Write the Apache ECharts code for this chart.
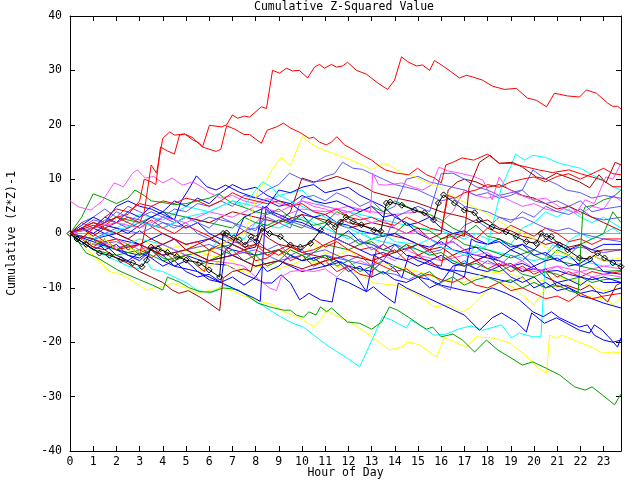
<!DOCTYPE html>
<html><head><meta charset="utf-8">
<script src="https://cdn.jsdelivr.net/npm/echarts@6/dist/echarts.min.js"></script>
<style>html,body{margin:0;padding:0;background:#fff}#c{width:640px;height:480px}</style>
</head><body><div id="c"></div>
<script>
// Tick labels
const xTicks = [0,1,2,3,4,5,6,7,8,9,10,11,12,13,14,15,16,17,18,19,20,21,22,23];
const yTicks = [-40,-30,-20,-10,0,10,20,30,40];
const zeroLine = [[0,0],[23.75,0]];

// Series values: [hour, cumulative value]
const redA = [[0,0],[0.5,1],[1,2],[1.5,1],[2,2],[2.5,3],[3,2],[3.2,4],[3.5,12.6],[3.73,11.1],[4.0,17.5],[4.3,18.7],[4.5,18.1],[4.94,18.3],[5.3,17.2],[5.58,16.6],[5.71,15.9],[6.01,19.9],[6.53,19.6],[6.75,20],[7.0,21.8],[7.22,21.2],[7.52,21.6],[7.74,21.4],[8.25,23.3],[8.47,23],[8.73,30],[9.03,29.5],[9.33,30.4],[9.59,29.9],[9.89,30],[10.24,28.6],[10.54,30.6],[10.75,31.1],[10.97,30.4],[11.27,31.1],[11.49,30.6],[11.75,30.8],[11.96,31.5],[12.35,30],[12.78,29.3],[13.26,27.7],[13.69,26.5],[13.99,28.2],[14.29,32.5],[14.55,31.6],[14.94,30.8],[15.19,31],[15.5,30],[15.71,31.8],[16.01,31],[16.44,29.7],[16.79,28.6],[17.09,29.1],[17.35,28.8],[17.78,28.2],[18.21,27.1],[18.73,26.5],[19.24,26.7],[19.72,24.9],[20.1,24.5],[20.54,23.3],[20.88,25.8],[21.44,25.3],[21.96,25.1],[22.26,26.4],[22.69,25.8],[23.17,24],[23.38,23.4],[23.6,23.4],[23.75,22.9]];
const redB = [[0,0],[0.5,-1],[1,1],[1.5,2],[2,3],[2.5,3.5],[3,6],[3.2,10],[3.5,9.5],[3.7,9],[3.9,15.9],[4.2,15.2],[4.5,14.6],[4.72,18.1],[4.94,18.3],[5.3,17.6],[5.71,15.9],[6.3,15.1],[6.5,15.5],[6.75,19.8],[7.1,19.2],[7.5,18.2],[7.74,18.2],[8.25,16.6],[8.5,19],[8.9,19.6],[9.2,20.3],[9.5,19.4],[9.95,18.5],[10.3,17.5],[10.5,17.7],[10.75,16.8],[11.05,16.3],[11.27,16.8],[11.5,17.8],[11.83,16.3],[12.26,15.3],[12.6,14.4],[13.0,13.5],[13.4,12.2],[13.6,11.7],[14.07,11.1],[14.6,10.8],[14.98,12],[15.37,10.8],[15.71,10.2],[16.0,9.3],[16.2,12.6],[16.5,13.1],[16.9,13.9],[17.4,13.5],[18.0,14.6],[18.5,12.9],[19.0,12.9],[19.7,12.2],[20.2,11.7],[20.8,11.2],[21.5,11.7],[22.0,11],[22.5,10.4],[22.95,9.8],[23.4,8.6],[23.75,8.6]];
const red3 = [[0,0],[0.5,2],[1,1],[1.5,3],[2,4.5],[2.5,4],[3,5.5],[3.5,5],[4,6],[4.5,5.5],[5,6.5],[5.5,6],[6,5],[6.5,6],[7,7.5],[7.5,6.5],[8,6],[8.5,5.5],[9,6],[9.5,5],[10,5.5],[10.5,4],[11,3.5],[11.5,4.5],[12,3],[12.5,2.5],[13,3],[13.5,2],[14,1.5],[14.5,3],[15,2],[15.5,1],[16,0.5],[16.3,7],[16.6,6.5],[17,7.5],[17.5,8],[18,9],[18.5,8.5],[19,9.5],[19.5,10],[20,10.4],[20.5,9.5],[21,10.5],[21.5,11],[22,10],[22.5,11],[23,12],[23.4,11],[23.75,10.8]];
const red4 = [[0,0],[0.5,-1],[1,-2.5],[1.5,-1],[2,-3],[2.5,-2],[3,-4],[3.3,2],[3.6,1],[4,0],[4.5,-1],[5,-2],[5.5,-1.5],[6,-3],[6.5,-2],[7,-4],[7.5,-3],[8,-5],[8.5,-4.5],[9,-3],[9.5,-2],[10,-3.5],[10.5,-3],[11,-2],[11.5,-1],[12,-2],[12.5,-3],[13,-2.5],[13.5,-4],[14,-3],[14.5,-5],[15,-4],[15.5,-5.5],[16,-6],[16.3,0],[16.6,-1],[17,0],[17.5,-1],[18,1],[18.5,0],[19,1.5],[19.5,0.5],[20,-0.5],[20.5,1],[21,0],[21.5,-1.5],[22,-1],[22.5,-2],[23,-1],[23.75,-1]];
const red5 = [[0,0],[0.5,1],[1,0],[1.5,-1.5],[2,-1],[2.5,-3],[3,-2],[3.5,-4.5],[4,-3],[4.5,-5],[5,-4],[5.5,-6],[5.8,-7],[6,-3],[6.5,-4],[7,-2],[7.5,-3],[8,-2],[8.5,-4],[9,-3],[9.5,-5],[10,-4],[10.5,-6],[11,-5],[11.5,-7],[12,-6],[12.5,-7.5],[13,-8],[13.2,-3],[13.5,-2],[14,-3.5],[14.5,-2],[15,-4],[15.5,-3],[16,-5],[16.5,-4],[17,-6],[17.5,-5],[18,-6.5],[18.5,-5.5],[19,-7],[19.5,-6],[20,-7.5],[20.5,-6.5],[21,-8],[21.5,-7],[22,-8],[22.5,-7],[23,-7.5],[23.75,-7]];
const red6 = [[0,0],[0.5,1],[1,2],[1.5,1.5],[2,3],[2.5,2],[3,1],[3.5,2.5],[4,1],[4.5,0],[5,1.5],[5.5,0.5],[6,-0.5],[6.5,-2],[7,-1],[7.5,-2.5],[8,-2],[8.5,-3],[9,-4],[9.5,-2.5],[10,-3],[10.5,-1],[11,-2.5],[11.5,-1.5],[12,-3],[12.5,-4],[13,-5],[13.5,-6],[14,-7],[14.5,-6.5],[15,-8],[15.5,-7.5],[16,-8.5],[16.5,-9],[17,-8],[17.5,-9.5],[18,-10],[18.5,-9],[19,-10.5],[19.5,-10],[20,-11],[20.5,-12],[21,-11.5],[21.5,-12.5],[22,-11],[22.5,-12],[23,-11.5],[23.75,-11]];
const darkTop = [[0,0],[1,-1],[2,-3],[3,-2],[4,-4],[5,-3],[6,-5],[7,-4],[8,-6],[9,-5],[10,-6.5],[11,-5],[12,-4],[13,-5],[14,-3.5],[15,-2],[15.5,-3],[16,-1],[16.5,0],[17,-0.5],[17.2,8.4],[17.65,13.1],[18.1,14.4],[18.5,12.9],[19.07,13.1],[19.5,12.2],[20.1,10.4],[20.5,10],[20.97,11.1],[21.4,10.4],[21.96,9.5],[22.4,8.4],[22.8,10.8],[23.1,9.3],[23.5,13.1],[23.75,12.6]];
const dark1 = [[0,0],[0.5,-1],[1,-2.5],[1.5,-3],[2,-4.5],[2.5,-5.5],[3,-7],[3.5,-8],[4,-9],[4.4,-10.4],[4.7,-11],[5.1,-10.5],[5.6,-11.7],[6.0,-12.8],[6.45,-14.2],[6.6,-8.2],[7,-7],[7.5,-6.5],[7.8,-7],[8.0,-3.6],[8.3,0],[8.6,-1],[9,-2],[9.5,-2.5],[10,-3.5],[10.5,-4],[11,-4.5],[11.3,-5],[11.5,1],[11.7,2.6],[12,2],[12.5,1.5],[13,1],[13.5,0],[14,-0.5],[14.5,-1],[15,-2],[15.5,-3],[16,-2.5],[16.5,-4],[17,-3],[17.5,-5],[18,-4],[18.5,-6],[19,-5.5],[19.5,-7],[20,-6.5],[20.5,-7],[21,-9.8],[21.4,-9.5],[22,-10.4],[22.4,-9.5],[23.17,-12.6],[23.55,-9.5],[23.75,-9.1]];
const dark2 = [[0,0],[0.5,1],[1,-0.5],[1.5,1],[2,0],[2.5,-1],[3,0.5],[3.5,-1],[4,-2],[4.5,-1],[5,-3],[5.5,-2],[6,-1],[6.5,0],[7,-1],[7.5,0.5],[8,-0.5],[8.5,1],[9,2],[9.5,4],[10,10.2],[10.5,9.5],[11,9.8],[11.5,10.5],[11.7,10.2],[12.56,8.9],[13.1,7.6],[13.86,6.7],[14.85,5.8],[15.45,4.9],[16,4],[16.5,3.5],[17,3],[17.5,2],[18,2.5],[18.5,1],[19,0.5],[19.5,-0.5],[20,-1],[20.5,-2],[21,-1.5],[21.5,-2.5],[22,-2],[22.5,-3.5],[23,-3],[23.75,-3]];
const dark3 = [[0,0],[1,1.5],[2,0],[3,2],[4,1],[5,3],[6,2],[7,4],[8,3],[9,2],[10,3.5],[11,2.5],[12,1],[13,2],[14,1],[14.5,0],[15,1],[15.5,-1],[16,0],[16.3,8],[16.7,9.5],[17,10],[17.5,9.5],[18,8.5],[18.5,9],[19,8],[19.5,7],[20,6.5],[20.5,5.5],[21,4.5],[21.5,5],[22,4],[22.5,3],[23,2],[23.75,0.5]];
const greenLow = [[0,0],[0.35,-1.5],[0.7,-3.6],[1.2,-4.5],[1.7,-5.8],[2.05,-6.7],[2.35,-7.3],[3.0,-8.5],[3.56,-9.5],[4.0,-10.4],[4.2,-8],[4.7,-8.9],[5.15,-10],[5.6,-10.7],[6.1,-10.8],[6.6,-10],[7.0,-10.2],[7.26,-10.4],[7.9,-12.2],[8.1,-12.8],[8.4,-13.2],[8.6,-13.5],[9.2,-14.1],[9.5,-14.1],[9.76,-15],[10.06,-15.4],[10.3,-14.4],[10.6,-15],[10.8,-13.5],[11.06,-14.4],[11.27,-13.7],[11.96,-16.3],[12.48,-16.5],[13.0,-17.6],[13.43,-16.3],[13.77,-13.5],[14.12,-14.1],[14.63,-15.5],[15.07,-16.8],[15.37,-17.6],[15.63,-17.2],[16.0,-19],[16.5,-18.5],[16.92,-19.6],[17.44,-21.8],[17.95,-19.6],[18.43,-21.4],[18.94,-22.7],[19.5,-24.2],[19.94,-23.6],[20.54,-24.8],[21.1,-26],[21.75,-28.2],[22.2,-28.8],[22.5,-28.2],[22.95,-29.7],[23.47,-31.5],[23.75,-29.5]];
const green1 = [[0,0],[0.5,3],[1,7.3],[1.5,6.5],[2,5.5],[2.5,6.5],[2.8,8],[3.2,7],[3.5,6],[4,5.7],[4.5,5.3],[5,5.5],[5.5,6],[6,6.5],[6.4,7.3],[7,5.5],[7.5,4.8],[8,4],[8.5,3.5],[9,4.5],[9.5,3],[10,2.5],[10.5,1.5],[11,2],[11.5,0],[12,-0.5],[12.5,-2],[13,-1.5],[13.5,-3],[14,-3.5],[14.5,-2],[15,-3],[15.5,-4],[16,-3.5],[16.5,-5],[17,-6],[17.5,-5.5],[18,-6.5],[18.5,-7],[19,-6],[19.5,-7.5],[20,-8],[20.5,-7],[21,-7.5],[21.5,-8.5],[22,-8],[22.5,-9],[23,-8.5],[23.75,-8.2]];
const green2 = [[0,0],[0.5,-1],[1,-2],[1.5,-1],[2,-3],[2.5,-2],[3,-4],[3.5,-3],[4,-4.5],[4.5,-5],[5,-4],[5.5,-6],[6,-5],[6.5,-4],[7,-3],[7.5,-5],[8,-4],[8.5,-6],[9,-5],[9.5,-3],[10,-4],[10.5,-5],[11,-4],[11.5,-6],[12,-5],[12.5,-7],[13,-6],[13.5,-7.5],[14,-6],[14.5,-7],[15,-8],[15.5,-7],[16,-9],[16.5,-8],[17,-9.5],[17.5,-8.5],[18,-8],[18.5,-9],[19,-8.5],[19.5,-10],[20,-9],[20.5,-10],[21,-9.5],[21.5,-10.5],[21.9,-11],[22.1,3.7],[22.2,4.9],[22.6,5.2],[23.0,6.2],[23.4,6.7],[23.75,8]];
const green3 = [[0,0],[1,1],[2,3],[3,2],[4,4],[5,3],[6,2],[7,1],[7.5,3],[8,2],[8.5,1.5],[9,2.5],[10,1],[10.5,3],[11,2],[11.5,4],[12,3],[13,5],[13.5,4],[14,6],[14.5,5],[15,4],[15.5,3.5],[16,2.5],[16.5,1],[17,0],[17.5,1.5],[18,-0.5],[18.5,-1],[19,-2],[19.5,-3],[20,-4],[20.5,-5],[21,-3],[21.5,-4],[22,-2],[22.5,-1],[23,0],[23.4,4],[23.75,2]];
const green4 = [[0,0],[1,-3],[2,-4],[3,-3],[4,-5],[5,-4],[6,-3],[7,-2],[8,-4],[9,-3],[10,-5],[11,-2],[12,-3],[13,-1],[14,0],[14.5,2],[15,1],[15.5,0.5],[16,-1],[16.5,-0.5],[17,-2],[18,-3],[19,-4.5],[20,-3],[21,-5],[22,-6],[23,-7],[23.75,-6.8]];
const cyanLow = [[0,0],[0.5,-1.5],[1,-3],[1.5,-4],[2,-5],[2.5,-6],[3,-6.5],[3.3,-5],[3.5,-6.5],[4,-7],[4.5,-8],[5,-9],[5.5,-10.5],[6,-10.8],[6.3,-10.4],[6.6,-9.5],[7,-10],[7.5,-11],[8,-12.5],[8.4,-13.5],[9.07,-15.3],[9.6,-16.5],[10.06,-17.2],[10.6,-19],[11.2,-20.9],[11.87,-22.7],[12.48,-24.5],[12.6,-23.5],[13.47,-15.3],[13.86,-15.9],[14.5,-17.4],[14.7,-15.9],[15.2,-17.2],[15.7,-18.7],[16.2,-18.5],[16.8,-17.5],[17.3,-17],[17.78,-17.8],[18.6,-16.8],[19.03,-19.2],[19.37,-18.3],[19.95,-19],[20.3,-19],[20.5,-4],[20.8,-2],[21.2,-3],[21.6,-1],[22,0],[22.5,-1],[23,0],[23.4,1],[23.75,0]];
const cyan1 = [[0,0],[1,-1],[2,0.5],[3,2],[4,1],[5,3],[6,4],[6.5,5],[7,6],[7.5,5],[8,8],[8.3,9.5],[8.7,8.5],[9,7],[9.5,6],[10,5],[10.5,4],[11,3],[11.5,2],[12,1],[12.5,0],[13,-1],[13.5,0],[14,-1.5],[15,-2],[15.5,-1],[16,-2.5],[16.5,-3],[17,-4],[17.5,-3.5],[18,-2],[18.3,3],[18.6,8.6],[19.0,12.4],[19.2,14.6],[19.6,13.5],[19.95,14.4],[20.5,14],[21.1,12.9],[21.5,12.5],[22,12],[22.5,10.8],[23.1,9.5],[23.4,8.6],[23.75,8]];
const cyan3 = [[0,0],[1,-2],[2,-3],[3,-1],[4,-2],[5,-4],[6,-3],[6.5,-1],[7,0],[7.5,-1],[8,2],[9,1],[10,3],[10.5,2],[11,1],[11.5,0],[12,-1],[12.5,0.5],[13,-1],[14,-2],[15,-3],[16,-4.5],[17,-5.5],[17.5,-2],[18,-3],[19,-4],[20,-5],[21,-4],[22,-5],[23,-6],[23.75,-5.5]];
const cyan4 = [[0,0],[1,2],[2,1],[3,3.5],[4,2.5],[5,5],[6,4],[7,6],[8,5],[9,7],[10,8],[10.5,6],[11,5],[12,4],[13,3],[14,2],[15,1],[16,0.5],[17,-1],[17.5,0],[18,-1],[19,-2],[19.5,1],[20,2],[20.5,4],[21,3],[21.5,4.5],[22,3],[22.5,2],[23,3],[23.75,1]];
const yellowLow = [[0,0],[0.5,-2],[1,-4],[1.7,-7],[2.2,-7.5],[2.8,-9],[3.3,-10.4],[3.6,-10],[4.0,-9.8],[4.4,-9.1],[5,-10],[5.5,-11],[6,-10.5],[6.5,-10],[7,-10.5],[7.5,-11.5],[8.3,-12.6],[8.7,-13],[9.2,-14.4],[9.6,-15],[10.06,-15.9],[10.5,-17.2],[10.8,-15.9],[11.05,-14.1],[11.4,-15],[11.9,-15.9],[12.48,-17.4],[13.2,-19.6],[13.77,-21.4],[14.3,-20.9],[14.55,-19.9],[15.07,-20.5],[15.8,-22.7],[16.14,-19.2],[16.5,-19.8],[17.1,-20.9],[17.5,-19],[18.2,-19.2],[18.94,-20.1],[19.6,-22.3],[20.1,-24.5],[20.54,-25.7],[20.67,-18.7],[20.97,-19.2],[21.2,-18.7],[21.9,-19.9],[22.5,-20.9],[22.95,-22],[23.4,-21.8],[23.75,-22]];
const yellowMid = [[0,0],[1,-1],[2,-2],[3,-1],[4,-3],[5,-2],[6,-4],[7,-5],[7.6,-7.6],[8,-6],[9,-6.5],[10,-5],[11,-5.5],[11.7,-6.2],[12.56,-7.6],[13.1,-9.1],[14,-9.5],[14.6,-10.4],[15.15,-11.7],[15.7,-13.5],[16.3,-13.1],[16.87,-14.4],[17.2,-13.8],[17.65,-11.9],[17.95,-10.4],[18.5,-8.9],[19.07,-9.8],[19.6,-11.7],[20.0,-13.1],[20.54,-9.8],[21,-9.8],[21.4,-9.5],[21.96,-11.3],[22.5,-11.7],[23.17,-12.2],[23.4,-13.1],[23.75,-11.9]];
const yellowPeak = [[0,0],[0.5,-1],[1,-2],[1.5,-1],[2,-3],[2.5,-2.5],[3,-3.5],[3.5,-2],[4,-3],[4.5,-4],[5,-3],[5.5,-4.5],[6,-3.5],[6.5,-2],[7,-1],[7.5,0],[7.8,3],[8.1,8],[8.5,10],[8.7,11.7],[9.1,14],[9.5,12.5],[10.0,17.8],[10.4,16.5],[10.75,15.7],[11.3,14.8],[12,13.7],[12.6,12.6],[13,11.7],[13.5,12.9],[13.8,12.5],[14.3,11.1],[14.9,10.4],[15.4,9.3],[16,8.4],[16.2,7.4],[16.8,6.2],[17.4,4.9],[17.95,3.7],[18.4,2.5],[19,1],[19.5,0],[20,-1],[20.5,-2.5],[21,-3.5],[21.5,-4],[22,-5],[22.5,-4],[23,-5],[23.75,-4.5]];
const yellow3 = [[0,0],[0.5,1],[1,-1],[1.5,-2],[2,-1],[2.5,-3],[3,-4],[3.5,-3],[4,-4.5],[4.5,-6],[5,-5],[5.5,-7],[6,-6],[6.5,-5],[7,-6.5],[7.5,-7],[8,-5],[8.5,-6],[9,-4],[9.5,-3],[10,-4],[10.5,-2],[11,-3.5],[11.5,-4],[12,-3],[12.5,-4.5],[13,-5],[14,-6],[15,-7],[16,-8.5],[17,-9],[17.5,-8],[18,-7],[19,-7.5],[20,-9],[21,-8],[22,-9],[23,-10.5],[23.75,-10]];
const blueLow1 = [[0,0],[1,-1.5],[2,-3],[3,-4],[4,-2],[5,-4],[6,-5.5],[6.75,-5.8],[7.56,-7.6],[8.4,-9.1],[8.7,-9.1],[9.1,-7.6],[9.5,-9.1],[9.9,-12.2],[10.3,-11],[10.8,-12.2],[11.3,-12.6],[11.5,-8.2],[12,-9],[12.78,-10.7],[13.08,-9.8],[13.5,-11.3],[14.0,-12.8],[14.15,-9.1],[14.5,-10],[15,-11],[15.5,-12],[16,-13],[16.5,-14],[17,-15],[17.65,-17.8],[18.2,-15.5],[18.6,-14.6],[19.24,-16.3],[19.67,-18.1],[19.9,-14.6],[20.45,-16.5],[20.97,-15.5],[21.4,-16.5],[21.96,-17.8],[22.4,-18.3],[22.6,-16.8],[22.95,-17.8],[23.34,-19.6],[23.6,-20.9],[23.75,-19.2]];
const blueLow2 = [[0,0],[1,-1],[2,0],[3,-2],[4,-4],[5,-3],[6,-5],[7,-4],[8,-6],[9,-5],[10,-7],[11,-6],[11.7,-5.2],[12.35,-8],[12.78,-10.7],[13.1,-4],[13.5,-5],[14,-6],[14.5,-7],[15,-8],[15.5,-8.5],[16,-9.5],[16.5,-10],[17,-10.5],[17.65,-11],[18.2,-10],[18.8,-11],[19.37,-12.2],[19.95,-14.4],[20.4,-15.3],[20.75,-14.4],[21.1,-15.5],[21.5,-16.3],[21.96,-17.2],[22.3,-16.8],[22.6,-18.7],[23.0,-19.6],[23.4,-20],[23.75,-19.6]];
const blueMid = [[0,0],[1,1],[2,-1],[3,-2],[4,0],[5,-2],[6,-1],[7,-3],[8,-4],[9,-3],[10,-5],[11,-4],[12,-6],[13,-7],[13.5,-5],[14,-6.5],[14.3,-8.2],[14.6,-4],[15,-5],[16,-6.5],[17,-7],[18,-8],[19,-9],[19.5,-8],[20,-10],[20.5,-9],[21,-10.5],[21.5,-10],[22,-11.5],[22.5,-12],[23,-12.8],[23.75,-13.7]];
const blue1 = [[0,0],[0.5,1],[1,0],[1.5,1.5],[2,1],[2.5,0],[3,1.5],[3.5,3],[4,4],[4.5,2.5],[4.8,6],[5.1,8],[5.45,10.6],[5.9,8.6],[6.3,8],[6.7,8.9],[7.3,7.6],[7.9,6.7],[8.5,6],[9,5],[9.5,5.5],[10,4],[10.5,3],[11,3.5],[11.5,2],[12,1.5],[12.5,0.5],[13,0],[13.5,-0.5],[14,0],[14.5,-1],[15,-2],[15.5,-2.5],[16,-1.5],[16.5,-3],[17,-3.5],[17.5,-4],[18,-4.5],[18.5,-5],[19,-6],[19.5,-5.5],[20,-6.5],[20.5,-7],[21,-6.8],[21.5,-7.5],[22,-8],[22.5,-8.5],[23,-8],[23.75,-9]];
const blue2 = [[0,0],[0.5,-1],[1,-2],[1.5,-1],[2,-3],[2.5,-4],[3,-4.5],[3.5,-3],[4,-5],[4.5,-6],[5,-6.5],[5.5,-7],[6,-8],[6.5,-9],[7,-10],[7.5,-11],[8,-12],[8.2,-12.5],[8.45,5],[8.7,4],[9,3.5],[9.5,2.5],[10,2],[10.5,1],[11,0],[11.5,-1],[12,-2],[12.5,-3],[13,-4],[13.5,-3.5],[14,-4.5],[14.5,-5],[15,-6],[15.5,-5],[16,-6.5],[16.5,-7],[17,-8],[17.3,-1],[17.5,-1.5],[18,-2],[18.5,-1],[19,-2.5],[19.5,-2],[20,-3],[20.5,-1],[21,-2],[21.5,-3],[22,-2],[22.5,-3],[23,-2],[23.75,-2]];
const blue3 = [[0,0],[0.5,1.5],[1,3],[1.5,2],[2,5],[2.5,6],[3,5],[3.5,4.5],[4,3.5],[4.5,2.5],[5,1],[5.5,2],[6,0],[6.5,-1],[7,-2],[7.5,-3],[8,-2.5],[8.3,5],[8.6,4],[9,3],[9.5,2],[10,3.5],[10.5,1],[11,0],[11.5,-1],[12,0.5],[12.5,-1.5],[13,-2],[13.5,-3],[14,-2],[14.5,-4],[15,-4.5],[15.5,-5],[16,-4],[16.5,-5.5],[17,-6],[17.5,-5],[18,-4],[18.5,-4.5],[19,-3],[19.5,-4],[20,-6],[20.5,-5],[21,-4.5],[21.5,-6],[22,-5.5],[22.5,-4],[23,-5],[23.75,-5]];
const blue4 = [[0,0],[0.5,-2],[1,-1],[1.5,-3],[2,-2],[2.5,-4],[3,-5],[3.5,-3],[4,-4],[4.5,-6],[5,-5],[5.5,-7],[6,-8.5],[6.5,-9],[6.7,-3],[7,-2],[7.5,3],[8,4],[8.5,5],[9,8],[9.5,7.5],[10,8.5],[10.5,9],[11,7.5],[11.5,8],[12,8.5],[12.5,7],[13,6],[13.5,5],[14,3],[14.5,2],[15,0],[15.5,-1],[16,-2],[16.5,-1.5],[17,-3],[17.5,-2.5],[18,-4],[18.5,-5],[19,-6],[19.5,-7],[20,-6],[20.5,-8],[21,-9],[21.5,-8.5],[22,-9.5],[22.5,-8],[23,-9],[23.75,-9]];
const blue5 = [[0,0],[0.5,-1],[1,1],[1.5,3],[2,2],[2.5,4],[3,3],[3.5,5],[4,4],[4.5,6],[5,5],[5.5,6.5],[6,5.5],[6.5,7.5],[7,9],[7.5,8],[8,8.5],[8.5,7],[9,6],[9.5,5.5],[10,7],[10.5,6],[11,5.5],[11.5,6],[12,5],[12.5,4],[13,5],[13.5,3],[14,3.5],[14.5,1.5],[15,2],[15.5,3],[16,1],[16.5,0],[17,0.5],[17.5,-1],[18,-2],[18.5,-1.5],[19,-3],[19.5,-2],[20,-4],[20.5,-3.5],[21,-5],[21.5,-4],[22,-6],[22.5,-5],[23,-7],[23.75,-7.5]];
const blue6 = [[0,0],[0.5,-1.5],[1,-3],[1.5,-2],[2,-4],[2.5,-5],[3,-3.5],[3.5,-4.5],[4,-6],[4.5,-5],[5,-7],[5.5,-8],[6,-7.5],[6.5,-9],[7,-8],[7.5,-9.5],[8,-8],[8.3,-6],[8.5,-7],[9,-6],[9.5,-4],[10,-5],[10.5,-4.5],[11,-6],[11.5,-5],[12,-7],[12.5,-6],[13,-8],[13.5,-7],[14,-8.5],[14.5,-9],[15,-8],[15.5,-10],[16,-9],[16.5,-6],[17,-5.5],[17.5,-6.5],[18,-7],[18.5,-6],[19,-8],[19.5,-9],[20,-8],[20.5,-10],[21,-9],[21.5,-10],[22,-11],[22.5,-10.5],[23,-11],[23.75,-10]];
const peri1 = [[0,0],[0.5,1],[1,2.5],[1.5,2],[2,4],[2.5,3],[3,2.5],[3.5,1.5],[4,3],[4.5,4.5],[5,4],[5.5,5.5],[6,5],[6.5,6],[7,5],[7.5,7],[8,6.5],[8.5,8],[9,9],[9.46,11.1],[10,10],[10.5,9.3],[11,10.5],[11.4,11],[11.75,13.1],[12.2,12],[12.6,11.8],[13,11],[13.5,10],[14,9],[14.5,8.5],[15,8],[15.5,7],[16,6],[16.5,6.5],[17,5],[17.5,4.5],[18,4],[18.5,3],[19,2.5],[19.5,3],[20,2],[20.5,1],[21,0.5],[21.5,1],[22,0],[22.5,-0.5],[23,-1],[23.75,-1.5]];
const peri2 = [[0,0],[0.5,-1],[1,1],[1.5,2.5],[2,2],[2.5,1],[3,3],[3.5,4],[4,3],[4.5,2],[5,3],[5.5,2],[6,1],[6.5,3],[7,2],[7.5,0.5],[8,1],[8.5,3],[9,2],[9.5,1],[10,6.5],[10.5,7],[11,6],[11.5,7.5],[12,6.5],[12.5,5],[13,6],[13.5,4],[14,5],[14.5,10],[15,10.5],[15.5,9.5],[16,9],[16.5,8.5],[17,8],[17.5,7],[18,7.5],[18.5,6.5],[19,7],[19.5,8],[20,6],[20.5,5.5],[21,6],[21.5,5],[22,6],[22.5,4],[23,4.5],[23.75,5]];
const peri3 = [[0,0],[0.5,2],[1,3],[1.5,4.5],[2,3],[2.5,5],[3,4],[3.5,3],[4,2],[4.5,1],[5,2],[5.5,0],[6,-1],[6.5,0],[7,-1.5],[7.5,-2],[8,-1],[8.5,-3],[9,-2],[9.5,-4],[10,-3],[10.5,-5],[11,-4],[12,-5],[12.5,-4],[13,-6],[13.5,-5],[14,-2],[14.5,-3],[15,-2],[15.5,-3.5],[16,-3],[16.5,-1],[17,1.5],[17.5,2.5],[18,1],[18.5,3],[19,2],[19.5,4],[20,3],[20.5,5],[21,4],[21.5,3.5],[22,4.5],[22.5,3],[23,2.5],[23.75,3]];
const peri4 = [[0,0],[1,-2],[2,-1.5],[3,-3.5],[4,-2],[4.5,-1],[5,-3],[6,-2],[7,-4],[8,-3],[9,-5],[10,-4],[11,-3],[12,-5],[13,-6],[13.3,-7],[14,-7.5],[14.6,-8.5],[15.15,-7.3],[15.7,-9.1],[16.4,-10.4],[16.6,-6],[17,-5],[17.5,-6.5],[18,-5],[18.5,-6],[19,-4],[19.5,-5],[20,-3],[20.5,-4],[21,-2],[21.5,-3],[22,-2.5],[23,-3.5],[23.75,-3]];
const peri5 = [[0,0],[1,-1],[2,1],[3,0],[4,2],[5,1],[6,3],[7,2],[8,0.5],[8.5,4],[9,3],[10,1.5],[11,0],[11.5,-1],[12,-2],[12.5,-1],[13,-3],[13.5,-2],[14,3],[14.5,4],[15,5],[15.5,4],[16,11],[16.5,11.1],[17,10],[17.5,8.6],[18,8],[18.5,7],[19,7.5],[19.5,8],[19.95,11.7],[20.5,10],[21,9],[21.4,8],[22,7.5],[22.5,6.5],[23,7],[23.75,6.5]];
const magTop = [[0,0],[1,1],[2,2],[3,1],[4,3],[5,2],[6,4],[7,3],[8,5],[9,4],[10,6],[11,5],[12,4],[12.5,4.5],[12.95,3.8],[13.05,11.1],[13.3,9],[13.6,8.9],[14.3,9.3],[14.8,8.5],[15.2,8],[15.6,9],[15.9,12.2],[16.3,11.5],[16.8,11.1],[17.4,10.5],[17.8,9.8],[18.2,6.2],[18.5,10.4],[18.8,8.5],[19.2,7.4],[19.95,6.2],[20.5,6.5],[21.1,4.9],[21.8,3.7],[22.2,6.2],[22.6,5.5],[23.1,10.4],[23.4,10],[23.75,12.9]];
const mag1 = [[0,6],[0.37,4.9],[0.9,4.3],[1.4,6],[1.9,9.3],[2.3,8.6],[2.7,11.1],[2.9,11.7],[3.25,10.2],[3.6,10.5],[4,9.3],[4.4,10.2],[4.85,8.9],[5.3,9.5],[5.7,8.5],[6,7.5],[6.5,6.5],[7,7],[7.5,6],[8,5.5],[8.5,6.5],[9,5.5],[9.5,5],[10,6],[10.5,5],[11,4.5],[11.5,3.5],[12,4],[12.5,3],[13,2],[13.5,2.5],[14,1],[14.5,0],[15,0.5],[15.5,-1],[16,-2],[16.5,-1.5],[17,-3],[17.5,-4],[18,-3.5],[18.5,-5],[19,-6],[19.5,-5],[20,-6.5],[20.5,-7],[21,-6],[21.5,-7.5],[22,-7],[22.5,-8],[23,-7.5],[23.75,-8]];
const mag2 = [[0,0],[1,-1],[2,-2.5],[3,-2],[4,-4],[5,-3],[6,-5],[7,-5.5],[7.5,-6],[8,-8],[8.6,-10],[8.9,-10.5],[9.1,-8],[9.5,-7],[10,-6.7],[10.5,-7],[11,-6.5],[11.5,-8],[12,-6],[12.5,-5],[13,-6],[13.5,-4],[14,-5],[14.5,-3],[15,-4],[16,-5],[17,-4],[18,-5.5],[19,-6],[20,-7],[21,-6],[22,-7],[23,-6],[23.75,-6.5]];
const mag3 = [[0,0],[1,-2],[2,-1],[3,-3],[4,-2],[5,-4],[6,-3],[7,-1],[8,2],[8.5,4],[9,3],[10,4.5],[11,4],[12,5],[13,4],[14,3.5],[15,4],[15.5,3],[16,2],[16.5,4],[17,8],[17.5,7],[18,6.5],[18.5,7],[19,6],[19.5,5],[20,5.5],[20.5,4.5],[21,4],[21.5,5],[22,3.5],[22.5,5],[23,4.5],[23.4,7],[23.75,6]];
const blackLine = [[0,0],[0.3,-1],[0.7,-2],[1.27,-3.6],[1.7,-4],[2.2,-4.8],[2.7,-5.4],[3.1,-6.1],[3.3,-4.9],[3.5,-2.5],[3.8,-2.8],[4.2,-3.5],[4.6,-4.2],[5.0,-4.9],[5.58,-5.4],[6.0,-6.7],[6.45,-8],[6.6,0],[6.75,0.1],[7.05,-0.8],[7.3,-1.2],[7.56,-2.1],[7.8,-0.6],[8.04,-1.5],[8.26,1],[8.6,0],[9.07,-0.6],[9.5,-2.1],[9.93,-2.5],[10.37,-1.8],[10.8,0.6],[11.14,2.1],[11.44,1.2],[11.66,2.1],[11.9,3],[12.2,2.2],[12.56,1.6],[13.1,0.6],[13.4,0.4],[13.64,5.6],[13.8,5.8],[14.3,5.2],[14.85,4.3],[15.28,3.8],[15.67,2.5],[15.88,5.6],[16.1,7.1],[16.57,5.6],[17.0,4.3],[17.44,3.8],[17.65,2.5],[18.2,1.2],[18.8,0.3],[19.24,-0.6],[19.67,-1.5],[20.1,-1.8],[20.3,0],[20.54,-0.6],[20.75,-0.6],[21.1,-2.1],[21.45,-3],[21.96,-4.5],[22.4,-4.7],[22.74,-3.6],[23.04,-4.5],[23.4,-5.4],[23.75,-6.1]];

const C = {red:'#ff0000', dark:'#a80000', green:'#00a000', blue:'#0000ff', peri:'#5a5aff', mag:'#ff50ff', cyan:'#00ffff', yellow:'#ffff00', black:'#000000'};
const lines = [
  ['cyanLow',cyanLow,C.cyan],['yellowLow',yellowLow,C.yellow],['greenLow',greenLow,C.green],['yellowMid',yellowMid,C.yellow],
  ['blueLow1',blueLow1,C.blue],['blueLow2',blueLow2,C.blue],['blueMid',blueMid,C.blue],
  ['yellow3',yellow3,C.yellow],['cyan3',cyan3,C.cyan],['cyan4',cyan4,C.cyan],['mag2',mag2,C.mag],['mag3',mag3,C.mag],
  ['green4',green4,C.green],['green3',green3,C.green],['peri4',peri4,C.peri],['peri3',peri3,C.peri],
  ['blue6',blue6,C.blue],['blue5',blue5,C.blue],['blue4',blue4,C.blue],['blue3',blue3,C.blue],['blue2',blue2,C.blue],
  ['dark3',dark3,C.dark],['dark2',dark2,C.dark],['dark1',dark1,C.dark],['red6',red6,C.red],['red5',red5,C.red],['red4',red4,C.red],
  ['green2',green2,C.green],['green1',green1,C.green],['peri5',peri5,C.peri],['peri2',peri2,C.peri],['peri1',peri1,C.peri],
  ['blue1',blue1,C.blue],['mag1',mag1,C.mag],['magTop',magTop,C.mag],['yellowPeak',yellowPeak,C.yellow],['cyan1',cyan1,C.cyan],
  ['darkTop',darkTop,C.dark],['red3',red3,C.red],['redB',redB,C.red],['redA',redA,C.red]
];

const FONT = 'DejaVu Sans Mono';
const txt = {color:'#000', fontFamily:FONT, fontSize:11.5};
const series = [{type:'line', name:'zero', data:zeroLine, symbol:'none', silent:true, lineStyle:{color:'#a0a0a0', width:1}, z:1}];
lines.forEach(([n,d,c]) => series.push({type:'line', name:n, data:d, symbol:'none', lineStyle:{color:c, width:1}, itemStyle:{color:c}, z:2}));
series.push({type:'line', name:'black', data:blackLine, symbol:'diamond', symbolSize:6, showAllSymbol:true,
  lineStyle:{color:'#000', width:1}, itemStyle:{color:'rgba(0,0,0,0)', borderColor:'#000', borderWidth:1}, z:3});

const chart = echarts.init(document.getElementById('c'), null, {renderer:'canvas'});
chart.setOption({
  animation:false,
  backgroundColor:'#fff',
  title:{text:'Cumulative Z-Squared Value', left:254, top:1, padding:0, textStyle:Object.assign({fontWeight:'normal'}, txt)},
  grid:{left:70, right:19, top:16, bottom:29, show:false, containLabel:false, outerBoundsMode:'none'},
  xAxis:[
    {type:'value', position:'bottom', min:0, max:23.75, interval:1,
     axisLine:{show:true, onZero:false, lineStyle:{color:'#000', width:1}},
     axisTick:{show:true, inside:true, length:5, lineStyle:{color:'#000'}},
     axisLabel:Object.assign({margin:5, showMaxLabel:false, formatter:v => xTicks.includes(v) ? String(v) : ''}, txt),
     splitLine:{show:false},
     name:'Hour of Day', nameLocation:'middle', nameGap:16, nameMoveOverlap:false, nameTextStyle:txt},
    {type:'value', position:'top', min:0, max:23.75, interval:1,
     axisLine:{show:true, onZero:false, lineStyle:{color:'#000', width:1}},
     axisTick:{show:true, inside:true, length:5, lineStyle:{color:'#000'}},
     axisLabel:{show:false}, splitLine:{show:false}}
  ],
  yAxis:[
    {type:'value', position:'left', min:-40, max:40, interval:10,
     axisLine:{show:true, onZero:false, lineStyle:{color:'#000', width:1}},
     axisTick:{show:true, inside:true, length:5, lineStyle:{color:'#000'}},
     axisLabel:Object.assign({margin:8, formatter:v => yTicks.includes(v) ? String(v) : ''}, txt),
     splitLine:{show:false},
     name:'Cumulative (Z*Z)-1', nameLocation:'middle', nameGap:52, nameRotate:90, nameMoveOverlap:false, nameTextStyle:txt},
    {type:'value', position:'right', min:-40, max:40, interval:10,
     axisLine:{show:true, onZero:false, lineStyle:{color:'#000', width:1}},
     axisTick:{show:true, inside:true, length:5, lineStyle:{color:'#000'}},
     axisLabel:{show:false}, splitLine:{show:false}}
  ],
  series: series
});
</script></body></html>
